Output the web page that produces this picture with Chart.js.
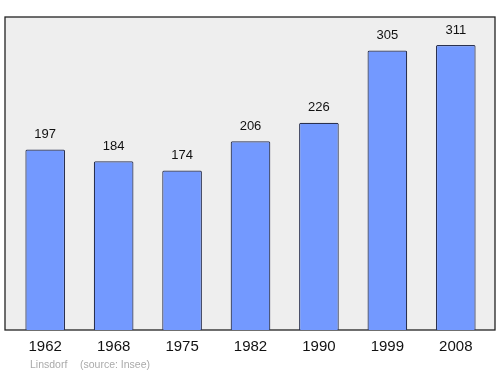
<!DOCTYPE html>
<html>
<head>
<meta charset="utf-8">
<script src="https://cdn.jsdelivr.net/npm/chart.js@4/dist/chart.umd.min.js"></script>
<style>
  html, body { margin: 0; padding: 0; background: #ffffff; }
  #wrap { width: 500px; height: 374px; position: relative; }
</style>
</head>
<body>
<div id="wrap"><canvas id="popChart"></canvas></div>
<script>
// Population data
const years = ['1962', '1968', '1975', '1982', '1990', '1999', '2008'];
const population = [197, 184, 174, 206, 226, 305, 311];
const footerPlace = 'Linsdorf';
const footerSource = '(source: Insee)';

// Grey frame behind the bars, plus labels and footer
const framePlugin = {
    id: 'frame',
    beforeDatasetsDraw(chart) {
        const { ctx, chartArea } = chart;
        ctx.save();
        ctx.fillStyle = '#eeeeee';
        ctx.fillRect(chartArea.left - 6, chartArea.top, chartArea.right - chartArea.left + 11, chartArea.bottom - chartArea.top);
        ctx.strokeStyle = '#222222';
        ctx.lineWidth = 1.3;
        ctx.strokeRect(chartArea.left - 6, chartArea.top, chartArea.right - chartArea.left + 11, chartArea.bottom - chartArea.top);
        ctx.restore();
    },
    afterDatasetsDraw(chart) {
        const { ctx, chartArea } = chart;
        const meta = chart.getDatasetMeta(0);
        const xScale = chart.scales.x;
        ctx.save();
        ctx.textAlign = 'center';
        ctx.textBaseline = 'middle';
        ctx.fillStyle = '#111111';
        ctx.font = '13px "Liberation Sans", Arial, sans-serif';
        meta.data.forEach(function (bar, i) {
            ctx.fillText(String(population[i]), bar.x, bar.y - 15);
        });
        ctx.font = '15px "Liberation Sans", Arial, sans-serif';
        years.forEach(function (y, i) {
            ctx.fillText(y, xScale.getPixelForValue(i), chartArea.bottom + 17);
        });
        ctx.textAlign = 'left';
        ctx.fillStyle = '#aaaaaa';
        ctx.font = '10.5px "Liberation Sans", Arial, sans-serif';
        ctx.fillText(footerPlace, 30, 365);
        ctx.fillText(footerSource, 80, 365);
        ctx.restore();
    }
};

const canvas = document.getElementById('popChart');
new Chart(canvas.getContext('2d'), {
    type: 'bar',
    data: {
        labels: years,
        datasets: [{
            data: population,
            backgroundColor: '#7399ff',
            borderColor: '#2a3150',
            borderWidth: 1.2,
            borderRadius: 1.5,
            borderSkipped: 'bottom',
            categoryPercentage: 1,
            barPercentage: 0.58
        }]
    },
    options: {
        responsive: true,
        maintainAspectRatio: false,
        animation: false,
        layout: { padding: { left: 11, right: 10, top: 17, bottom: 44 } },
        plugins: {
            legend: { display: false },
            tooltip: { enabled: false }
        },
        scales: {
            x: { display: false },
            y: { display: false, min: 0, max: 341.5 }
        }
    },
    plugins: [framePlugin]
});
</script>
</body>
</html>
